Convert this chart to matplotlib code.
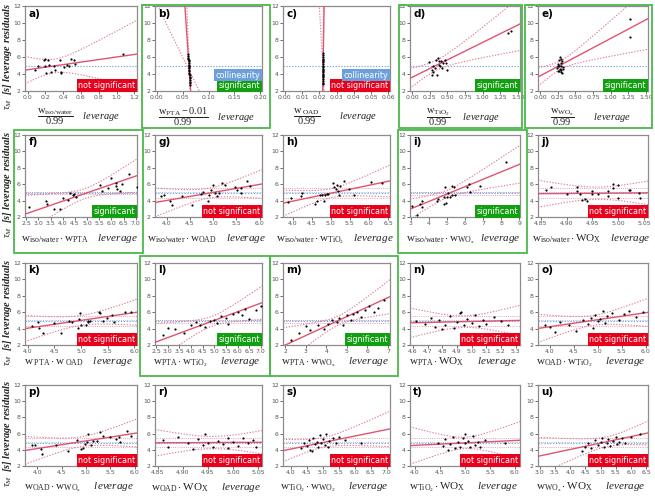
import numpy as np
import matplotlib
matplotlib.use("Agg")
import matplotlib.pyplot as plt
from matplotlib.patches import Rectangle

plt.rcParams['mathtext.fontset'] = 'custom'
plt.rcParams['mathtext.rm'] = 'Liberation Serif'
plt.rcParams['mathtext.it'] = 'Liberation Serif:italic'
plt.rcParams['mathtext.bf'] = 'Liberation Serif:bold'

# ---------------- data ----------------
x_a = [0.08, 0.12, 0.18, 0.19, 0.20, 0.21, 0.23, 0.24, 0.26, 0.30, 0.31, 0.36, 0.37, 0.38, 0.41, 0.44, 0.47, 0.49, 0.52, 0.53, 1.07]
y_a = [4.5, 4.9, 5.6, 4.9, 5.8, 4.1, 5.7, 5.1, 4.2, 4.9, 4.5, 5.7, 4.2, 4.1, 4.8, 5.1, 4.9, 5.8, 5.6, 5.2, 6.4]

y_b = [6.3, 6.1, 5.9, 5.7, 5.5, 5.3, 5.1, 4.9, 4.7, 4.5, 4.3, 4.1, 3.9, 3.7, 3.5, 3.3, 3.1, 2.9, 2.7, 5.8, 4.8, 4.0]
x_b = [0.0609, 0.0611, 0.0613, 0.0616, 0.0618, 0.0620, 0.0622, 0.0624, 0.0627, 0.0629, 0.0631, 0.0633, 0.0636, 0.0638, 0.0640, 0.0642, 0.0645, 0.0647, 0.0649, 0.0614, 0.0625, 0.0634]

y_c = [6.5, 6.2, 6.0, 5.8, 5.6, 5.4, 5.2, 5.0, 4.8, 4.6, 4.4, 4.2, 4.0, 3.8, 3.6, 3.4, 3.2, 3.0, 2.8, 5.5, 4.5, 3.9]
x_c = [0.02237, 0.02235, 0.02234, 0.02232, 0.02231, 0.02229, 0.02228, 0.02226, 0.02224, 0.02223, 0.02221, 0.02219, 0.02218, 0.02216, 0.02215, 0.02213, 0.02211, 0.02210, 0.02208, 0.02230, 0.02222, 0.02217]

x_d = [0.24, 0.275, 0.30, 0.34, 0.36, 0.375, 0.40, 0.41, 0.44, 0.46, 0.475, 0.49, 0.325, 0.275, 0.35, 0.30, 0.425, 0.375, 1.36, 1.40]
y_d = [5.4, 4.45, 4.9, 5.7, 5.9, 5.5, 4.9, 5.5, 5.3, 5.7, 5.35, 4.45, 4.65, 3.85, 3.85, 4.25, 4.65, 5.05, 8.8, 9.1]

x_e = [0.24, 0.25, 0.26, 0.27, 0.27, 0.28, 0.28, 0.29, 0.29, 0.30, 0.30, 0.31, 0.31, 0.32, 0.25, 0.27, 0.29, 0.33, 1.28, 1.28]
y_e = [4.7, 5.2, 4.4, 5.6, 4.9, 6.0, 4.6, 5.3, 4.2, 5.0, 4.5, 5.5, 4.1, 4.8, 4.9, 4.3, 5.8, 4.6, 10.5, 8.4]

x_f = [2.60, 3.30, 3.34, 3.63, 3.88, 4.00, 4.21, 4.31, 4.42, 4.46, 4.53, 5.55, 5.62, 5.87, 5.98, 6.17, 6.20, 6.23, 6.35, 6.42, 6.71, 7.04]
y_f = [3.2, 4.0, 3.6, 3.0, 3.0, 4.35, 4.07, 4.98, 4.65, 4.85, 4.44, 5.9, 5.2, 5.5, 6.7, 6.1, 5.8, 5.4, 5.2, 6.0, 7.2, 5.7]

x_g = [3.88, 3.95, 4.08, 4.11, 4.34, 4.54, 4.74, 4.79, 4.88, 4.92, 4.95, 5.00, 5.03, 5.08, 5.13, 5.18, 5.26, 5.46, 5.51, 5.60, 5.60, 5.72, 5.79]
y_g = [4.54, 4.74, 4.0, 3.5, 4.54, 3.5, 4.8, 5.1, 4.0, 4.74, 5.35, 5.95, 4.94, 4.54, 4.94, 6.15, 5.95, 5.6, 5.35, 4.94, 5.55, 6.35, 5.75]

x_h = [3.87, 3.97, 4.21, 4.26, 4.60, 4.64, 4.71, 4.77, 4.81, 4.85, 4.89, 4.94, 5.06, 5.08, 5.13, 5.15, 5.19, 5.21, 5.25, 5.34, 5.49, 5.62, 6.04, 6.34]
y_h = [3.85, 4.34, 4.54, 4.94, 3.53, 3.94, 4.74, 4.74, 3.94, 4.74, 4.82, 4.82, 6.15, 5.63, 5.47, 5.95, 5.15, 4.66, 5.75, 6.35, 5.47, 4.74, 6.27, 6.15]

x_i = [3.04, 3.35, 3.50, 3.63, 3.63, 4.44, 4.53, 4.81, 4.86, 4.94, 4.90, 4.99, 5.08, 5.16, 5.27, 5.30, 5.40, 5.44, 6.09, 6.23, 6.28, 6.84, 8.25]
y_i = [3.33, 2.3, 3.58, 4.0, 3.25, 4.0, 4.17, 4.5, 3.58, 3.67, 5.6, 4.5, 4.9, 4.5, 5.8, 4.7, 5.6, 4.7, 5.7, 6.0, 5.0, 5.8, 8.7]

x_j = [4.86, 4.87, 4.90, 4.92, 4.92, 4.925, 4.93, 4.935, 4.94, 4.95, 4.95, 4.96, 4.98, 4.98, 4.99, 4.99, 5.00, 5.00, 5.02, 5.022, 5.04, 5.042]
y_j = [5.25, 5.66, 4.76, 5.17, 5.66, 4.76, 4.03, 4.15, 3.95, 4.76, 5.17, 4.76, 5.17, 4.56, 6.06, 5.57, 5.9, 4.35, 5.3, 5.25, 4.97, 4.35]

x_k = [4.09, 4.19, 4.21, 4.28, 4.50, 4.63, 4.78, 4.83, 4.94, 4.97, 4.98, 5.00, 5.09, 5.13, 5.14, 5.17, 5.34, 5.36, 5.41, 5.48, 5.59, 5.61, 5.83, 5.94]
y_k = [4.33, 4.78, 4.04, 3.51, 4.65, 3.51, 4.98, 4.86, 4.04, 5.18, 5.88, 4.45, 4.45, 4.98, 4.86, 4.98, 6.08, 5.88, 4.94, 5.27, 5.67, 4.86, 6.08, 6.08]

x_l = [2.8, 3.0, 3.3, 3.7, 4.0, 4.2, 4.4, 4.6, 4.8, 5.0, 5.1, 5.3, 5.5, 5.6, 5.8, 6.0, 6.2, 6.3, 6.5, 6.8, 7.0]
y_l = [3.2, 4.1, 3.9, 3.5, 4.4, 4.8, 4.5, 4.2, 4.9, 5.1, 4.7, 5.5, 5.3, 4.6, 5.8, 6.0, 5.6, 6.4, 5.2, 6.3, 6.8]

x_m = [2.3, 2.7, 3.0, 3.2, 3.6, 3.9, 4.1, 4.3, 4.5, 4.6, 4.8, 5.0, 5.2, 5.3, 5.5, 5.7, 5.9, 6.1, 6.3, 6.5, 6.8]
y_m = [2.6, 3.5, 4.3, 3.8, 4.5, 4.0, 4.6, 5.0, 4.8, 5.3, 4.4, 5.6, 5.0, 5.8, 6.0, 5.4, 6.3, 6.8, 6.0, 6.5, 7.5]

x_n = [4.62, 4.68, 4.72, 4.75, 4.78, 4.82, 4.85, 4.88, 4.90, 4.92, 4.95, 4.97, 5.00, 5.02, 5.05, 5.08, 5.10, 5.15, 5.20, 5.25, 4.80, 4.93]
y_n = [4.9, 4.6, 5.3, 4.2, 5.0, 4.5, 5.5, 4.1, 4.8, 5.9, 4.4, 5.2, 4.7, 5.6, 4.3, 5.0, 4.6, 5.4, 4.9, 4.5, 3.9, 6.0]

x_o = [3.90, 4.00, 4.10, 4.20, 4.40, 4.55, 4.70, 4.80, 4.85, 4.90, 4.95, 5.00, 5.05, 5.10, 5.15, 5.20, 5.30, 5.45, 5.55, 5.65, 5.80, 5.95]
y_o = [4.5, 4.2, 3.6, 4.8, 4.4, 3.7, 5.0, 4.6, 5.3, 4.1, 5.6, 4.9, 5.2, 6.1, 4.7, 5.5, 5.9, 5.1, 5.8, 6.2, 5.4, 6.0]

x_p = [3.90, 3.95, 4.07, 4.10, 4.38, 4.63, 4.82, 4.91, 4.94, 4.98, 5.03, 5.05, 5.10, 5.15, 5.22, 5.29, 5.35, 5.50, 5.61, 5.68, 5.70, 5.84, 5.92]
y_p = [4.54, 4.62, 4.14, 3.53, 4.62, 3.81, 5.22, 4.05, 4.2, 4.73, 5.02, 5.95, 4.62, 5.14, 5.14, 6.23, 5.75, 5.55, 5.35, 5.55, 4.94, 6.35, 5.75]

x_r = [4.86, 4.87, 4.89, 4.91, 4.92, 4.93, 4.94, 4.945, 4.95, 4.96, 4.97, 4.98, 4.99, 4.99, 5.00, 5.01, 5.02, 5.03, 5.04, 5.045]
y_r = [5.2, 4.4, 5.6, 4.8, 4.1, 5.3, 4.6, 5.9, 4.9, 4.3, 5.1, 4.7, 5.5, 4.2, 5.0, 4.5, 5.4, 4.8, 5.2, 4.4]

x_s = [4.30, 4.40, 4.50, 4.55, 4.60, 4.70, 4.75, 4.80, 4.85, 4.90, 4.95, 5.00, 5.05, 5.10, 5.20, 5.30, 5.40, 5.50, 5.70, 6.20, 4.65, 5.15]
y_s = [4.2, 4.8, 4.5, 5.2, 4.0, 5.5, 4.7, 5.0, 4.3, 5.8, 4.9, 5.3, 4.6, 6.0, 5.1, 5.4, 4.8, 5.6, 5.2, 4.8, 3.9, 4.4]

x_t = [4.45, 4.55, 4.60, 4.70, 4.75, 4.80, 4.85, 4.90, 4.95, 5.00, 5.05, 5.10, 5.15, 5.20, 5.25, 5.30, 5.40, 5.80, 4.65, 5.00]
y_t = [4.9, 4.5, 5.3, 4.7, 5.6, 4.2, 5.0, 4.4, 5.4, 4.8, 5.1, 4.3, 5.7, 4.6, 5.0, 4.4, 5.2, 4.9, 4.0, 5.9]

x_u = [4.50, 4.60, 4.70, 4.80, 4.90, 5.00, 5.05, 5.10, 5.20, 5.25, 5.30, 5.40, 5.50, 5.55, 5.60, 5.70, 5.80, 6.00, 6.30, 4.40]
y_u = [4.4, 4.9, 4.2, 5.2, 4.6, 5.0, 5.5, 4.3, 4.8, 5.3, 4.5, 5.1, 5.6, 4.7, 5.0, 5.4, 4.8, 5.6, 6.0, 3.9]

panel_letters = ['a', 'b', 'c', 'd', 'e', 'f', 'g', 'h', 'i', 'j',
                 'k', 'l', 'm', 'n', 'o', 'p', 'r', 's', 't', 'u']
panel_x = [x_a, x_b, x_c, x_d, x_e, x_f, x_g, x_h, x_i, x_j,
           x_k, x_l, x_m, x_n, x_o, x_p, x_r, x_s, x_t, x_u]
panel_y = [y_a, y_b, y_c, y_d, y_e, y_f, y_g, y_h, y_i, y_j,
           y_k, y_l, y_m, y_n, y_o, y_p, y_r, y_s, y_t, y_u]

x_limits = [(-0.03, 1.23), (-0.003, 0.203), (-0.001, 0.061), (-0.03, 1.53), (-0.03, 1.53),
            (2.45, 7.05), (3.75, 6.05), (3.75, 6.55), (2.95, 9.05), (4.845, 5.057),
            (3.95, 6.05), (2.45, 7.05), (1.9, 7.1), (4.58, 5.33), (3.75, 6.05),
            (3.75, 6.05), (4.845, 5.057), (3.75, 7.1), (3.9, 6.1), (2.95, 6.55)]
x_tick_values = [
    [0.0, 0.2, 0.4, 0.6, 0.8, 1.0, 1.2],
    [0.00, 0.05, 0.10, 0.15, 0.20],
    [0.00, 0.01, 0.02, 0.03, 0.04, 0.05, 0.06],
    [0.00, 0.25, 0.50, 0.75, 1.00, 1.25, 1.50],
    [0.00, 0.25, 0.50, 0.75, 1.00, 1.25, 1.50],
    [2.5, 3.0, 3.5, 4.0, 4.5, 5.0, 5.5, 6.0, 6.5, 7.0],
    [4.0, 4.5, 5.0, 5.5, 6.0],
    [4.0, 4.5, 5.0, 5.5, 6.0, 6.5],
    [3, 4, 5, 6, 7, 8, 9],
    [4.85, 4.90, 4.95, 5.00, 5.05],
    [4.0, 4.5, 5.0, 5.5, 6.0],
    [2.5, 3.0, 3.5, 4.0, 4.5, 5.0, 5.5, 6.0, 6.5, 7.0],
    [2, 3, 4, 5, 6, 7],
    [4.6, 4.7, 4.8, 4.9, 5.0, 5.1, 5.2, 5.3],
    [4.0, 4.5, 5.0, 5.5, 6.0],
    [4.0, 4.5, 5.0, 5.5, 6.0],
    [4.85, 4.90, 4.95, 5.00, 5.05],
    [4.0, 4.5, 5.0, 5.5, 6.0, 6.5, 7.0],
    [4.0, 4.5, 5.0, 5.5, 6.0],
    [3.0, 3.5, 4.0, 4.5, 5.0, 5.5, 6.0, 6.5],
]
x_tick_formats = ['%.1f', '%.2f', '%.2f', '%.2f', '%.2f',
                  '%.1f', '%.1f', '%.1f', '%d', '%.2f',
                  '%.1f', '%.1f', '%d', '%.1f', '%.1f',
                  '%.1f', '%.2f', '%.1f', '%.1f', '%.1f']
y_tick_values = [2, 4, 6, 8, 10, 12]

# fitted leverage line: y = fit_level + fit_slope * (x - fit_center)
fit_center = [0.30, 0.063, 0.0222, 0.35, 0.30, 4.9, 4.9, 5.0, 5.0, 4.96,
              5.0, 4.9, 4.6, 4.95, 4.9, 4.9, 4.96, 5.0, 5.0, 5.2]
fit_level = [4.95, 4.4, 4.4, 5.05, 5.1, 4.85, 4.9, 4.9, 4.8, 4.9,
             5.0, 4.9, 5.0, 4.85, 5.0, 5.0, 4.9, 4.9, 4.85, 5.0]
fit_slope = [1.5, -900.0, 12500.0, 4.1, 4.4, 1.02, 0.98, 0.97, 0.9, 0.5,
             0.95, 1.05, 1.16, 0.4, 0.85, 0.94, 0.3, 0.8, 0.3, 0.8]
# confidence curves: half width = sqrt(ci_h0^2 + ci_k^2 (x - fit_center)^2)
ci_h0 = [0.8, 0.3, 0.3, 0.6, 0.5, 0.6, 0.6, 0.55, 0.45, 0.75,
         0.6, 0.6, 0.55, 0.7, 0.6, 0.6, 0.75, 0.6, 0.7, 0.6]
ci_k = [4.2, 775.0, 16000.0, 2.6, 2.9, 0.9, 1.43, 1.2, 0.56, 12.8,
        1.4, 0.9, 0.8, 4.5, 1.4, 1.4, 12.8, 1.0, 2.0, 1.0]
mean_level = 4.9
band_half = [0.0, 0.0, 0.0, 0.0, 0.0, 0.15, 0.6, 0.6, 0.2, 0.6,
             0.6, 0.2, 0.2, 0.6, 0.6, 0.6, 0.6, 0.6, 0.6, 0.6]

status = ['not significant', 'significant', 'not significant', 'significant', 'significant',
          'significant', 'not significant', 'not significant', 'significant', 'not significant',
          'not significant', 'significant', 'significant', 'not significant', 'not significant',
          'not significant', 'not significant', 'not significant', 'not significant', 'not significant']
collinear = [False, True, True] + [False] * 17

x_labels = [
    r'$\dfrac{\mathrm{w}_{\mathrm{iso/water}}}{0.99}$   $\mathit{leverage}$',
    r'$\dfrac{\mathrm{w}_{\mathrm{PTA}}-0.01}{0.99}$   $\mathit{leverage}$',
    r'$\dfrac{\mathrm{w}_{\ \mathrm{OAD}}}{0.99}$      $\mathit{leverage}$',
    r'$\dfrac{\mathrm{w}_{\mathrm{TiO_2}}}{0.99}$    $\mathit{leverage}$',
    r'$\dfrac{\mathrm{w}_{\mathrm{WO_x}}}{0.99}$      $\mathit{leverage}$',
    r'$\mathrm{w}_{\mathrm{iso/water}}\cdot\mathrm{w}_{\mathrm{PTA}}$   $\mathit{leverage}$',
    r'$\mathrm{w}_{\mathrm{iso/water}}\cdot\mathrm{w}_{\mathrm{OAD}}$   $\mathit{leverage}$',
    r'$\mathrm{w}_{\mathrm{iso/water}}\cdot\mathrm{w}_{\mathrm{TiO_2}}$   $\mathit{leverage}$',
    r'$\mathrm{w}_{\mathrm{iso/water}}\cdot\mathrm{w}_{\mathrm{WO_x}}$  $\mathit{leverage}$',
    r'$\mathrm{w}_{\mathrm{iso/water}}\cdot\mathrm{WO_X}$   $\mathit{leverage}$',
    r'$\mathrm{w}_{\ \mathrm{PTA}}\cdot\mathrm{w}_{\ \mathrm{OAD}}$   $\mathit{leverage}$',
    r'$\mathrm{w}_{\mathrm{PTA}}\cdot\mathrm{w}_{\mathrm{TiO_2}}$    $\mathit{leverage}$',
    r'$\mathrm{w}_{\mathrm{PTA}}\cdot\mathrm{w}_{\mathrm{WO_x}}$    $\mathit{leverage}$',
    r'$\mathrm{w}_{\mathrm{PTA}}\cdot\mathrm{WO_X}$    $\mathit{leverage}$',
    r'$\mathrm{w}_{\mathrm{OAD}}\cdot\mathrm{w}_{\mathrm{TiO_2}}$    $\mathit{leverage}$',
    r'$\mathrm{w}_{\mathrm{OAD}}\cdot\mathrm{w}_{\mathrm{WO_x}}$    $\mathit{leverage}$',
    r'$\mathrm{w}_{\mathrm{OAD}}\cdot\mathrm{WO_X}$    $\mathit{leverage}$',
    r'$\mathrm{w}_{\mathrm{TiO_2}}\cdot\mathrm{w}_{\mathrm{WO_2}}$    $\mathit{leverage}$',
    r'$\mathrm{w}_{\mathrm{TiO_2}}\cdot\mathrm{WO_X}$    $\mathit{leverage}$',
    r'$\mathrm{w}_{\mathrm{WO_x}}\cdot\mathrm{WO_X}$    $\mathit{leverage}$',
]

# ---------------- layout ----------------
W, H = 655, 499
col_left = [25, 155, 283, 410, 538]
col_right = [137, 262, 390, 520, 648]
row_top = [6, 135, 263, 385]
row_bottom = [91, 217, 345, 466]
label_y = [117, 239, 362, 487]
green_boxes = [(142, 5, 270, 128), (399, 5, 522, 128), (525, 5, 652, 128),
               (14, 130, 143, 253), (398, 130, 527, 253),
               (140, 256, 270, 376), (270, 256, 398, 376)]

RED = '#e2536f'
PINK = '#e07c98'
BLUE = '#7fa6d6'

fig = plt.figure(figsize=(W / 100, H / 100), dpi=100)

for idx, letter in enumerate(panel_letters):
    r, c = divmod(idx, 5)
    l, rr = col_left[c], col_right[c]
    t, b = row_top[r], row_bottom[r]
    ax = fig.add_axes([l / W, 1 - b / H, (rr - l) / W, (b - t) / H])
    x0_, x1_ = x_limits[idx]
    ax.set_xlim(x0_, x1_)
    ax.set_ylim(2, 12)

    xs = np.linspace(x0_, x1_, 4000)
    xc, yc, sl = fit_center[idx], fit_level[idx], fit_slope[idx]
    line = yc + sl * (xs - xc)
    half = np.sqrt(ci_h0[idx] ** 2 + (ci_k[idx] * (xs - xc)) ** 2)

    ax.axhline(mean_level, color=BLUE, lw=0.8, ls=(0, (1.2, 1.4)), zorder=1)
    if band_half[idx] > 0:
        ax.axhline(mean_level + band_half[idx], color=PINK, lw=0.6, ls=(0, (1.2, 1.4)), zorder=1, alpha=0.8)
        ax.axhline(mean_level - band_half[idx], color=PINK, lw=0.6, ls=(0, (1.2, 1.4)), zorder=1, alpha=0.8)
        ax.axhline(mean_level + 0.1, color=BLUE, lw=0.6, ls=(0, (1.2, 1.4)), zorder=1, alpha=0.8)

    ax.plot(xs, line + half, color=PINK, lw=0.8, ls=(0, (1.2, 1.4)), zorder=2)
    ax.plot(xs, line - half, color=PINK, lw=0.8, ls=(0, (1.2, 1.4)), zorder=2)
    ax.plot(xs, line, color=RED, lw=1.0, zorder=3)
    ax.scatter(panel_x[idx], panel_y[idx], s=2.5, color='black', zorder=4, linewidths=0)

    ax.set_xticks(x_tick_values[idx])
    ax.set_xticklabels([x_tick_formats[idx] % v for v in x_tick_values[idx]])
    ax.set_yticks(y_tick_values)
    ax.tick_params(labelsize=4.4, colors='#555555', length=2, width=0.6, pad=1.0)
    for sp in ax.spines.values():
        sp.set_color('#8c8c8c')
        sp.set_linewidth(0.9)

    ax.text(0.03, 0.97, letter + ')', transform=ax.transAxes, ha='left', va='top',
            fontsize=7.5, fontweight='bold', family='DejaVu Sans', zorder=6)

    col = '#e8001c' if status[idx] == 'not significant' else '#12a012'
    ax.text(0.985, 0.012, status[idx], transform=ax.transAxes, ha='right', va='bottom',
            fontsize=5.8, color='white', family='DejaVu Sans', zorder=7,
            bbox=dict(boxstyle='square,pad=0.2', fc=col, ec='none'))
    if collinear[idx]:
        ax.text(0.985, 0.135, 'collinearity', transform=ax.transAxes, ha='right', va='bottom',
                fontsize=5.8, color='white', family='DejaVu Sans', zorder=7,
                bbox=dict(boxstyle='square,pad=0.2', fc='#6d9fdc', ec='none'))

    cx = (l + rr) / 2 - 2
    fig.text(cx / W, 1 - label_y[r] / H, x_labels[idx], ha='center', va='center',
             fontsize=7.5 if r == 0 else 8, color='#222222')

for r in range(4):
    cy = (row_top[r] + row_bottom[r]) / 2 + 8
    fig.text(8 / W, 1 - cy / H, r'$\tau_M$  [s] leverage residuals', rotation=90,
             ha='center', va='center', fontsize=7.5, family='Liberation Serif',
             fontweight='bold', style='italic', color='#222222')

for (x0b, y0b, x1b, y1b) in green_boxes:
    fig.add_artist(Rectangle((x0b / W, 1 - y1b / H), (x1b - x0b) / W, (y1b - y0b) / H,
                             transform=fig.transFigure, fill=False, ec='#4cb84c', lw=1.3))

fig.savefig('out.png', dpi=100)
